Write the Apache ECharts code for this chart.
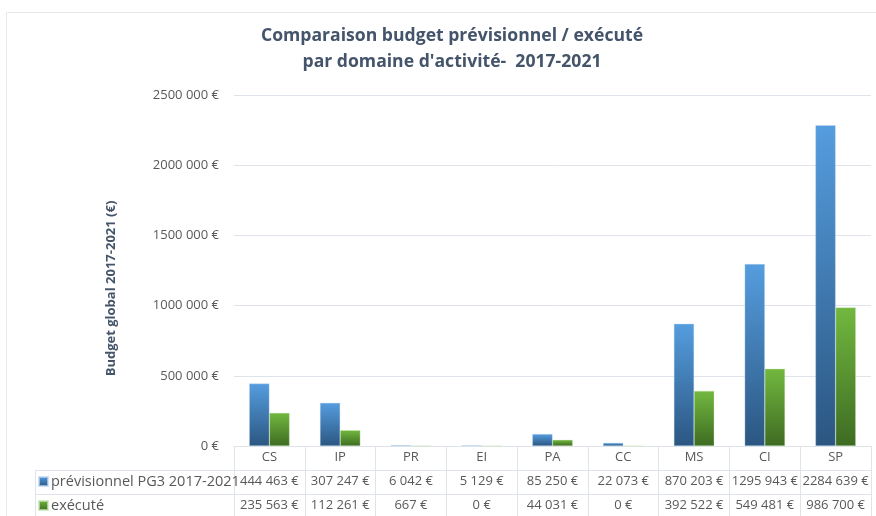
<!DOCTYPE html>
<html>
<head>
<meta charset="utf-8">
<script src="https://cdn.jsdelivr.net/npm/echarts@6/dist/echarts.min.js"></script>
<style>
  html, body { margin: 0; padding: 0; background: #fff; }
  #chart { width: 876px; height: 516px; }
</style>
</head>
<body>
<div id="chart"></div>
<script>
const categories = ['CS', 'IP', 'PR', 'EI', 'PA', 'CC', 'MS', 'CI', 'SP']
const previsionnel = [444463, 307247, 6042, 5129, 85250, 22073, 870203, 1295943, 2284639]
const execute = [235563, 112261, 667, 0, 44031, 0, 392522, 549481, 986700]
const seriesNames = ['prévisionnel PG3 2017-2021', 'exécuté']
const yTicks = [0, 500000, 1000000, 1500000, 2000000, 2500000]

const textGray = '#595959'
const titleColor = '#44546a'
const lineGray = '#dfe4ea'
const font = 'Open Sans'

// "2284 639 €" style: only the last group is separated
const euro = v => {
  if (v < 1000) return v + ' €'
  return Math.floor(v / 1000) + ' ' + String(v % 1000).padStart(3, '0') + ' €'
}

const grad = (top, bottom) => ({
  type: 'linear', x: 0, y: 0, x2: 0, y2: 1,
  colorStops: [{ offset: 0, color: top }, { offset: 1, color: bottom }],
})
const blue = grad('#559ddf', '#2b5681')
const green = grad('#72b83f', '#3e6b22')

const tableAxis = (values, offset) => ({
  type: 'category',
  data: values.map(euro),
  position: 'bottom',
  offset,
  axisLine: { show: false },
  axisTick: { show: false },
  axisLabel: { color: textGray, fontSize: 13, fontFamily: font, margin: 5, interval: 0 },
})

const chart = echarts.init(document.getElementById('chart'))
chart.setOption({
  animation: false,
  title: {
    text: 'Comparaison budget prévisionnel / exécuté\npar domaine d\'activité-  2017-2021',
    left: 452,
    top: 23,
    padding: 0,
    textAlign: 'center',
    textStyle: { color: titleColor, fontSize: 17.6, fontWeight: 'bold', fontFamily: font, lineHeight: 26 },
  },
  legend: {
    orient: 'vertical',
    left: 38,
    top: 473,
    padding: 0,
    itemGap: 7,
    itemWidth: 9,
    itemHeight: 9,
    icon: 'rect',
    data: seriesNames,
    textStyle: { color: textGray, fontSize: 14.5, fontFamily: font, lineHeight: 17, padding: [0, 0, 0, -2] },
  },
  grid: { left: 234, right: 5, top: 95, bottom: 70 },
  xAxis: [
    {
      type: 'category',
      data: categories,
      axisLine: { lineStyle: { color: lineGray } },
      axisTick: { show: true, length: 75, lineStyle: { color: lineGray } },
      axisLabel: { color: textGray, fontSize: 13, fontFamily: font, margin: 5 },
    },
    tableAxis(previsionnel, 24),
    tableAxis(execute, 48),
  ],
  yAxis: {
    type: 'value',
    min: yTicks[0],
    max: yTicks[yTicks.length - 1],
    interval: yTicks[1] - yTicks[0],
    name: 'Budget global 2017-2021 (€)',
    nameLocation: 'middle',
    nameGap: 116,
    nameTextStyle: { color: titleColor, fontSize: 13, fontWeight: 'bold', fontFamily: font, padding: [0, 36, 0, 0] },
    axisLine: { show: false },
    axisTick: { show: false },
    splitLine: { lineStyle: { color: lineGray } },
    axisLabel: { color: textGray, fontSize: 13, fontFamily: font, margin: 15, formatter: euro },
  },
  series: [
    {
      name: seriesNames[0],
      type: 'bar',
      data: previsionnel,
      barGap: 0,
      barCategoryGap: '43%',
      itemStyle: { color: blue, borderColor: 'rgba(190,215,240,0.7)', borderWidth: 0.5 },
    },
    {
      name: seriesNames[1],
      type: 'bar',
      data: execute,
      itemStyle: { color: green, borderColor: 'rgba(200,230,180,0.7)', borderWidth: 0.5 },
    },
  ],
  graphic: [
    // outer frame of the chart area
    { type: 'rect', shape: { x: 6.5, y: 12.5, width: 900, height: 600 }, style: { fill: 'none', stroke: '#e6e9ee', lineWidth: 1 }, silent: true },
    // data table rules
    { type: 'line', shape: { x1: 35, y1: 470.5, x2: 871, y2: 470.5 }, style: { stroke: lineGray, lineWidth: 1 } },
    { type: 'line', shape: { x1: 35, y1: 494.5, x2: 871, y2: 494.5 }, style: { stroke: lineGray, lineWidth: 1 } },
    { type: 'line', shape: { x1: 35.5, y1: 470, x2: 35.5, y2: 520 }, style: { stroke: lineGray, lineWidth: 1 } },
  ],
})
</script>
</body>
</html>
